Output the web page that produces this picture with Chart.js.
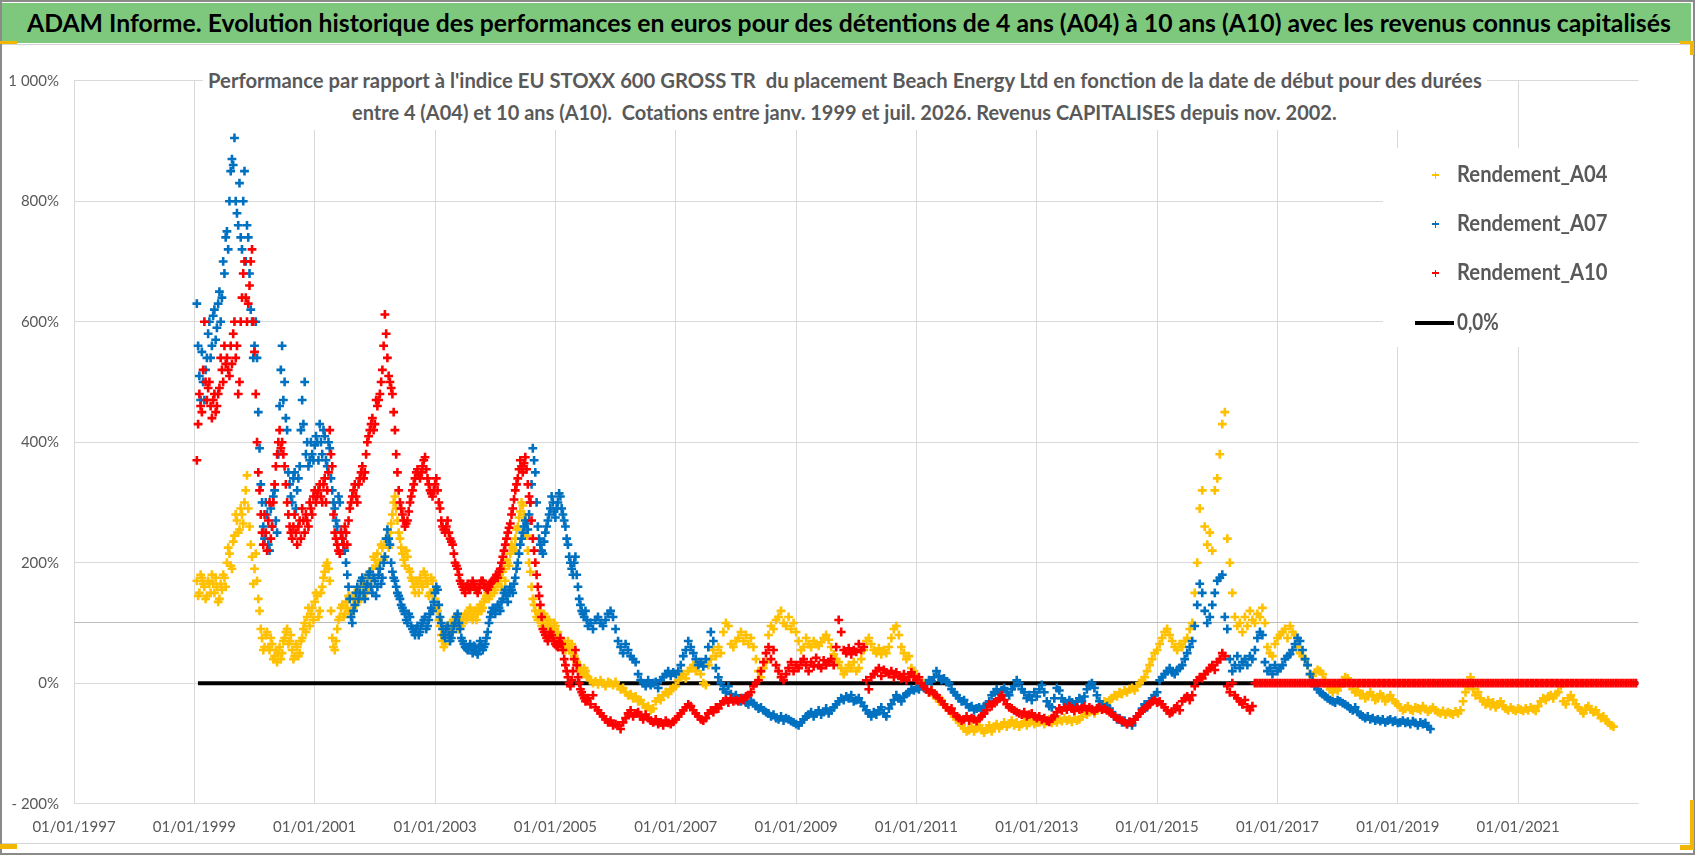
<!DOCTYPE html>
<html lang="fr"><head><meta charset="utf-8">
<title>ADAM Informe - Beach Energy Ltd</title>
<script src="https://cdn.jsdelivr.net/npm/chart.js@4.4.1/dist/chart.umd.min.js"></script>
<style>
html,body{margin:0;padding:0;background:#fff;}
#wrap{position:relative;width:1698px;height:856px;overflow:hidden;background:#fff;font-family:Lato,'Open Sans',sans-serif;}
#c{position:absolute;left:0;top:0;}
.abs{position:absolute;}
.txt{position:absolute;white-space:pre;line-height:1;transform-origin:0 50%;}
.yl{background:#F2B705;position:absolute;}
</style></head><body>
<div id="wrap">
<canvas id="c" width="1698" height="856"></canvas>
<div class="abs" style="left:0;top:0;width:1695px;height:855px;border:2px solid #8a8a8a;box-sizing:border-box;"></div>
<div class="abs" style="left:2px;top:3px;width:1689px;height:40px;background:#7EC87E;"></div>
<div class="abs" style="left:2px;top:44px;width:1691px;height:1px;background:#d4d4d4;"></div>
<div class="abs" style="left:2px;top:843px;width:1691px;height:1px;background:#d4d4d4;"></div>
<div id="title" class="txt" data-w="1644" style="left:27px;top:11px;font-size:24px;font-weight:700;color:#000;"></div>
<div class="abs" style="left:203px;top:60px;width:1284px;height:70px;background:#fff;"></div>
<div id="sub1" class="txt" data-w="1274" style="left:208px;top:70px;font-size:20px;font-weight:700;color:#595959;"></div>
<div id="sub2" class="txt" data-w="985" style="left:352px;top:102px;font-size:20px;font-weight:700;color:#595959;"></div>
<div id="legend" class="abs" style="left:1383px;top:148px;width:257px;height:199px;background:#fff;"></div>
<div class="yl" style="left:0;top:41px;width:17px;height:3px;"></div>
<div class="yl" style="left:1680px;top:41px;width:14px;height:3px;"></div>
<div class="yl" style="left:1690px;top:41px;width:4px;height:14px;"></div>
<div class="yl" style="left:0;top:844px;width:17px;height:5px;"></div>
<div class="yl" style="left:1690px;top:800px;width:4px;height:50px;"></div>
<div class="yl" style="left:1680px;top:845px;width:14px;height:5px;"></div>
</div>
<script>
// ---------- texts ----------
const mainTitle = "ADAM Informe. Evolution historique des performances en euros pour des détentions de 4 ans (A04) à 10 ans (A10) avec les revenus connus capitalisés";
const subTitleLines = [
  "Performance par rapport à l'indice EU STOXX 600 GROSS TR  du placement Beach Energy Ltd en fonction de la date de début pour des durées",
  "entre 4 (A04) et 10 ans (A10).  Cotations entre janv. 1999 et juil. 2026. Revenus CAPITALISES depuis nov. 2002."
];
const seriesLabels = ["Rendement_A04", "Rendement_A07", "Rendement_A10", "0,0%"];
const seriesColors = ["#FFC000", "#0070C0", "#FF0000", "#000000"];

// ---------- axes ----------
const xTickYears = [1997,1999,2001,2003,2005,2007,2009,2011,2013,2015,2017,2019,2021];
const xTickLabels = ["01/01/1997","01/01/1999","01/01/2001","01/01/2003","01/01/2005","01/01/2007","01/01/2009","01/01/2011","01/01/2013","01/01/2015","01/01/2017","01/01/2019","01/01/2021"];
const yTickValues = [-200,0,200,400,600,800,1000];
const yTickLabels = ["- 200%","0%","200%","400%","600%","800%","1 000%"];

// ---------- data (semi-monthly start dates from mid-January 1999, values in %) ----------
const firstDate = 1999 + 1/24;
const dateStep = 1/24;

const rendementA04 = [
 170,150,175,160,145,165,180,150,160,140,155,175,200,215,190,245,270,255,280,300,345,260,210,190,
 170,120,75,60,85,55,65,45,35,60,50,75,90,70,55,45,60,50,75,100,110,95,125,135,
 145,120,160,185,200,170,75,55,90,110,130,115,125,140,120,150,135,160,145,165,155,175,190,205,
 215,200,225,210,235,250,280,310,270,240,215,195,210,185,170,150,165,175,160,180,165,150,170,140,
 120,95,70,65,85,100,95,110,90,105,100,115,110,125,105,120,115,130,125,140,150,145,160,155,
 165,175,185,170,200,215,225,240,260,285,295,270,220,185,140,120,105,115,100,110,95,100,90,95,
 85,70,65,55,70,60,50,40,30,25,15,20,10,5,0,3,-2,5,0,-5,2,0,-3,2,
 -5,-10,-8,-15,-20,-18,-25,-22,-30,-28,-35,-40,-38,-45,-42,-30,-25,-28,-20,-15,-18,-10,-8,-5,
 5,10,15,8,20,25,30,20,35,15,0,-3,30,40,55,45,60,50,85,100,95,65,60,70,
 75,85,70,80,65,75,60,40,20,10,25,35,80,95,90,105,110,120,100,95,110,90,100,85,
 70,55,60,75,65,60,70,65,62,68,75,80,72,60,48,40,35,25,15,20,30,25,35,20,
 25,40,55,70,75,65,55,50,58,48,55,50,60,75,90,95,80,60,50,40,45,25,20,10,
 5,-5,0,-10,-15,-12,-20,-25,-30,-28,-35,-40,-45,-50,-55,-60,-65,-70,-75,-80,-78,-72,-80,-75,
 -70,-78,-82,-75,-70,-80,-72,-68,-75,-70,-65,-72,-68,-62,-70,-65,-72,-68,-64,-70,-66,-62,-68,-65,
 -65,-62,-68,-64,-60,-66,-62,-65,-60,-63,-58,-62,-60,-64,-58,-62,-60,-55,-50,-52,-48,-45,-50,-45,
 -40,-35,-30,-32,-28,-25,-20,-22,-15,-18,-12,-15,-10,-8,-12,-5,0,5,10,20,30,40,50,55,
 65,75,85,90,80,70,60,55,65,60,70,75,90,100,150,200,290,320,260,230,250,220,320,340,
 380,430,450,240,200,150,110,95,100,85,110,95,120,105,100,115,110,125,100,60,50,45,65,75,
 80,85,90,75,95,85,80,60,50,45,40,30,15,12,18,22,20,15,5,-5,-10,-15,-8,-12,
 -5,5,10,8,0,-10,-15,-12,-20,-18,-25,-22,-15,-20,-28,-25,-18,-22,-30,-25,-20,-28,-32,-35,
 -40,-45,-42,-38,-44,-46,-40,-42,-45,-38,-43,-47,-44,-40,-45,-48,-50,-46,-52,-48,-50,-52,-47,-50,
 -45,-30,-15,-5,10,-10,-20,-15,-25,-30,-35,-28,-38,-32,-40,-35,-30,-38,-42,-45,-40,-44,-46,-42,
 -44,-46,-42,-45,-40,-43,-46,-38,-30,-25,-28,-22,-20,-25,-18,-15,-5,-30,-35,-25,-20,-28,-35,-40,
 -45,-50,-42,-38,-44,-48,-45,-52,-58,-55,-62,-65,-70,-72
];
// values read between the semi-monthly dates (volatile years 1999 - mid 2005)
const rendementA04Mid = [
 145,180,165,140,170,150,165,175,135,165,180,160,225,195,235,280,250,290,265,320,290,230,165,215,
 140,90,55,80,60,75,40,55,50,40,70,85,65,80,40,65,45,70,90,85,125,115,105,150,
 110,150,175,195,190,120,60,70,105,125,110,135,145,115,140,130,155,140,170,150,180,160,210,195,
 190,230,205,240,225,265,300,290,250,225,205,220,190,175,160,170,150,165,185,170,145,175,155,125,
 105,80,60,90,95,85,105,100,110,95,110,105,120,110,115,105,125,120,135,145,140,165,150,170,
 180,160,190,205,195,230,220,255,275,300,280,245,200,160,130,110,120,95,115,100,105,88,100,80,
 75,60,68,62,55,65,45,35,22,18,25,12
];

const rendementA07 = [
 630,510,550,470,540,600,560,620,590,650,640,680,750,800,870,905,780,830,720,850,760,680,600,560,
 540,390,300,240,280,220,260,320,250,460,560,500,420,330,300,350,320,360,470,500,400,370,380,395,
 400,430,380,410,360,390,320,290,260,300,240,220,180,140,100,130,160,150,175,140,165,185,150,170,
 160,190,175,210,255,230,185,170,150,140,125,115,100,110,90,80,95,85,100,110,95,115,120,150,
 155,110,90,75,95,70,85,100,115,90,70,60,55,65,50,60,48,70,55,65,85,110,125,115,
 130,120,140,155,135,160,150,175,200,230,250,270,255,300,390,350,260,230,215,250,270,290,300,275,
 300,310,280,260,230,200,180,210,160,130,115,120,95,100,90,105,110,100,95,105,115,120,110,90,
 70,60,50,65,55,45,40,35,15,5,0,-5,5,-3,0,2,-8,5,10,15,20,12,18,15,
 20,30,45,55,70,60,50,40,30,35,28,40,60,85,70,25,10,0,-10,-15,-5,-18,-25,-20,
 -28,-30,-25,-32,-35,-30,-33,-38,-42,-40,-45,-48,-50,-55,-52,-58,-60,-55,-62,-58,-60,-63,-65,-68,
 -70,-65,-60,-55,-52,-48,-55,-50,-45,-52,-48,-42,-50,-45,-40,-35,-30,-25,-28,-22,-25,-20,-30,-28,
 -25,-32,-38,-45,-50,-55,-48,-52,-45,-40,-50,-55,-42,-35,-28,-20,-25,-30,-22,-18,-15,-10,-12,-8,
 -10,-5,-8,0,5,3,10,20,12,5,8,2,0,-10,-15,-20,-25,-30,-28,-35,-40,-38,-45,-42,
 -40,-45,-38,-35,-30,-20,-15,-10,-18,-12,-8,-15,-20,-10,-5,5,0,-10,-15,-25,-20,-28,-15,-22,
 -10,-3,-15,-30,-38,-40,-25,-8,-12,-25,-30,-35,-28,-32,-36,-30,-25,-30,-22,-10,-3,0,-8,-20,
 -30,-35,-40,-38,-42,-48,-55,-60,-58,-65,-62,-68,-65,-70,-60,-55,-50,-42,-35,-40,-30,-25,-20,-15,
 5,10,15,20,25,18,15,22,25,30,40,50,60,70,95,130,165,150,120,100,110,130,150,170,
 175,180,110,90,40,20,30,45,25,35,40,30,45,40,55,75,85,80,35,20,25,15,30,20,
 25,30,40,45,48,55,65,75,70,55,40,30,15,5,-5,-10,-15,-18,-22,-25,-28,-30,-32,-28,
 -30,-33,-35,-38,-42,-45,-40,-48,-52,-55,-58,-55,-60,-58,-62,-60,-63,-60,-65,-62,-60,-64,-62,-66,
 -65,-62,-66,-64,-68,-63,-66,-70,-65,-68,-66,-72,-76
];
const rendementA07Mid = [
 560,470,500,520,580,540,610,570,630,600,700,740,720,850,860,800,760,740,800,700,740,620,540,600,
 450,330,260,300,230,290,310,270,380,520,470,440,350,310,340,290,340,420,430,380,360,400,370,410,
 370,400,420,370,400,340,300,270,310,250,230,200,160,110,120,150,140,170,150,160,180,160,175,145,
 180,165,200,240,240,200,175,160,145,130,120,105,115,95,85,90,80,95,105,90,105,125,135,160,
 130,100,80,90,80,75,95,110,100,75,65,58,60,55,62,52,60,62,60,75,100,118,120,125,
 125,135,150,145,150,155,165,190,215,240,260,265,280,330,370,300,240,220,235,260,280,310,285,290,
 315,290,270,240,210,190,200,180,140,120,110,105
];

const rendementA10 = [
 370,480,450,600,470,500,440,480,460,490,520,560,540,510,530,600,560,500,640,700,600,660,720,550,
 400,320,250,280,220,300,260,330,380,420,400,360,300,260,240,280,230,270,290,250,270,300,280,320,
 310,330,300,340,320,420,360,250,230,215,240,260,230,290,310,330,300,340,360,350,400,420,440,430,
 460,480,520,612,540,500,480,420,350,300,280,260,270,300,320,340,355,340,360,375,340,320,310,330,
 320,290,260,250,270,240,230,200,190,170,160,150,165,155,170,160,150,165,170,160,155,165,170,175,
 175,190,210,230,250,265,290,320,340,370,350,375,330,300,240,200,160,130,90,80,70,85,75,65,
 60,75,55,30,10,-5,20,55,10,-10,-20,-30,-25,-35,-20,-40,-45,-50,-55,-60,-65,-62,-70,-68,
 -70,-76,-65,-58,-50,-45,-55,-50,-48,-55,-60,-52,-58,-62,-65,-60,-68,-65,-70,-62,-66,-68,-64,-60,
 -55,-50,-45,-40,-35,-38,-45,-50,-55,-60,-62,-58,-50,-45,-48,-40,-42,-35,-30,-28,-32,-25,-30,-28,
 -30,-25,-28,-22,-20,-15,-5,0,5,20,35,50,60,40,55,30,20,10,5,15,25,35,20,30,
 25,35,40,30,20,35,28,42,30,25,38,30,35,40,30,60,105,85,55,50,58,48,55,52,
 65,55,60,5,-10,10,15,20,25,12,22,18,15,20,10,18,12,8,15,5,10,18,12,5,
 10,0,-5,-10,-15,-12,-18,-20,-25,-30,-35,-40,-45,-42,-50,-55,-58,-62,-60,-55,-62,-58,-60,-63,
 -58,-55,-50,-45,-35,-38,-32,-30,-25,-20,-28,-35,-40,-42,-45,-48,-50,-52,-48,-55,-52,-50,-55,-58,
 -55,-60,-58,-62,-64,-58,-55,-48,-42,-45,-40,-44,-38,-42,-46,-40,-44,-42,-38,-45,-40,-43,-46,-42,
 -40,-44,-42,-45,-48,-50,-55,-58,-60,-62,-65,-68,-64,-66,-60,-55,-50,-45,-42,-38,-35,-30,-28,-32,
 -30,-35,-40,-45,-50,-48,-42,-38,-45,-30,-25,-22,-28,-20,-5,5,10,8,15,20,25,30,22,35,
 40,50,45,-5,-15,0,-20,-25,-30,-35,-28,-40,-45,-38,0,0,0,0,0,0,0,0,0,0,
 0,0,0,0,0,0,0,0,0,0,0,0,0,0,0,0,0,0,0,0,0,0,0,0,
 0,0,0,0,0,0,0,0,0,0,0,0,0,0,0,0,0,0,0,0,0,0,0,0,
 0,0,0,0,0,0,0,0,0,0,0,0,0,0,0,0,0,0,0,0,0,0,0,0,
 0,0,0,0,0,0,0,0,0,0,0,0,0,0,0,0,0,0,0,0,0,0,0,0,
 0,0,0,0,0,0,0,0,0,0,0,0,0,0,0,0,0,0,0,0,0,0,0,0,
 0,0,0,0,0,0,0,0,0,0,0,0,0,0,0,0,0,0,0,0,0,0,0
];
const rendementA10Mid = [
 430,460,520,500,490,460,470,450,480,540,500,530,520,560,580,540,480,600,680,640,630,700,600,480,
 350,280,230,250,270,240,300,360,400,390,380,330,280,250,260,250,260,240,270,280,260,290,310,300,
 320,310,330,300,350,380,280,240,220,250,230,250,270,300,320,310,330,350,340,380,410,430,420,470,
 470,500,560,580,510,490,450,380,320,290,270,265,285,310,330,350,345,350,370,355,330,315,320,340,
 300,270,255,260,250,235,215,195,180,165,155,160,158,162,165,155,158,170,165,158,160,168,172,180,
 185,200,220,240,258,280,305,330,355,360,365,355,310,270,220,180,145,110,85,75,78,80,70,62,
 68,65,40,20,0,5,40,30,0,-15,-25,-28
];

const zeroLineDates = [1999.06, 2023.0];
const zeroLineValues = [0, 0];

// ---------- build ----------
function toPoints(vals, mids){
  const pts = vals.map((v,i)=>({x:firstDate + i*dateStep, y:v}));
  mids.forEach((v,i)=>pts.push({x:firstDate + dateStep/2 + i*dateStep, y:v}));
  return pts;
}
const FONT = "Lato, 'Open Sans', sans-serif";

function scatterSet(idx, vals, mids, order){
  return {label:seriesLabels[idx], data:toPoints(vals, mids), showLine:false,
    pointStyle:'cross', pointRadius:4.4, pointBorderWidth:2.6, pointHoverRadius:4.4,
    borderColor:seriesColors[idx], backgroundColor:seriesColors[idx],
    pointBorderColor:seriesColors[idx], order:order};
}

const chart = new Chart(document.getElementById('c'), {
  type:'scatter',
  data:{datasets:[
    scatterSet(2, rendementA10, rendementA10Mid, 1),
    scatterSet(1, rendementA07, rendementA07Mid, 2),
    scatterSet(0, rendementA04, rendementA04Mid, 3),
    {type:'line', label:seriesLabels[3], data:zeroLineDates.map((d,i)=>({x:d,y:zeroLineValues[i]})),
     borderColor:'#000', borderWidth:4, pointRadius:0, fill:false, order:4}
  ]},
  options:{
    responsive:false, animation:false, devicePixelRatio:1,
    layout:{padding:{left:0,right:59.5,top:80.7,bottom:0}},
    plugins:{legend:{display:false}, tooltip:{enabled:false}, title:{display:false}},
    scales:{
      x:{type:'linear', min:1997, max:2023,
        afterFit:s=>{s.height=52.3;},
        border:{display:false},
        grid:{color:c=>(c.tick && Math.round(c.tick.value)===2023)?'rgba(0,0,0,0)':'#d9d9d9', lineWidth:1, drawTicks:false},
        ticks:{stepSize:2, autoSkip:false, maxRotation:0, minRotation:0, padding:14, color:'#595959',
          font:{family:FONT,size:15},
          callback:v=>{const i=xTickYears.indexOf(Math.round(v)); return i>=0?xTickLabels[i]:'';}}},
      y:{min:-200, max:1000,
        afterFit:s=>{s.width=74;},
        afterBuildTicks:s=>{s.ticks.push({value:100}); s.ticks.sort((a,b)=>a.value-b.value);},
        border:{display:false},
        grid:{color:c=>(c.tick && c.tick.value===100)?'#bdbdbd':'#d9d9d9', lineWidth:1, drawTicks:false},
        ticks:{stepSize:200, padding:15, color:'#595959', font:{family:FONT,size:15},
          callback:v=>{const i=yTickValues.indexOf(Math.round(v)); return i>=0?yTickLabels[i]:'';}}}
    }
  }
});

// ---------- HTML titles & legend ----------
document.getElementById('title').textContent = mainTitle;
document.getElementById('sub1').textContent = subTitleLines[0];
document.getElementById('sub2').textContent = subTitleLines[1];

const wrap = document.getElementById('wrap');
const legendRowsY = [175, 224, 273, 323];
const legendTextW = [150, 150, 150, 42];
seriesLabels.forEach((lab,i)=>{
  const cy = legendRowsY[i];
  if(i<3){
    const h=document.createElement('div'); h.className='abs';
    h.style.cssText=`left:1432px;top:${cy-0.75}px;width:7px;height:1.5px;background:${seriesColors[i]};`;
    const v=document.createElement('div'); v.className='abs';
    v.style.cssText=`left:1434.75px;top:${cy-3.5}px;width:1.5px;height:7px;background:${seriesColors[i]};`;
    wrap.appendChild(h); wrap.appendChild(v);
  } else {
    const l=document.createElement('div'); l.className='abs';
    l.style.cssText=`left:1415px;top:${cy-2}px;width:39px;height:4px;background:#000;`;
    wrap.appendChild(l);
  }
  const t=document.createElement('div'); t.className='txt'; t.textContent=lab;
  t.dataset.w=legendTextW[i];
  t.style.cssText=`left:1457px;top:${cy-11.7}px;font-size:22px;font-weight:700;color:#595959;`;
  wrap.appendChild(t);
});

function fitTexts(){
  document.querySelectorAll('.txt').forEach(el=>{
    el.style.transform='none';
    const w=el.offsetWidth, tw=+el.dataset.w;
    if(w>0 && tw>0) el.style.transform='scaleX('+(tw/w)+')';
  });
}
fitTexts();
if(document.fonts && document.fonts.ready) document.fonts.ready.then(()=>{fitTexts(); chart.update('none');});
</script>
</body></html>
